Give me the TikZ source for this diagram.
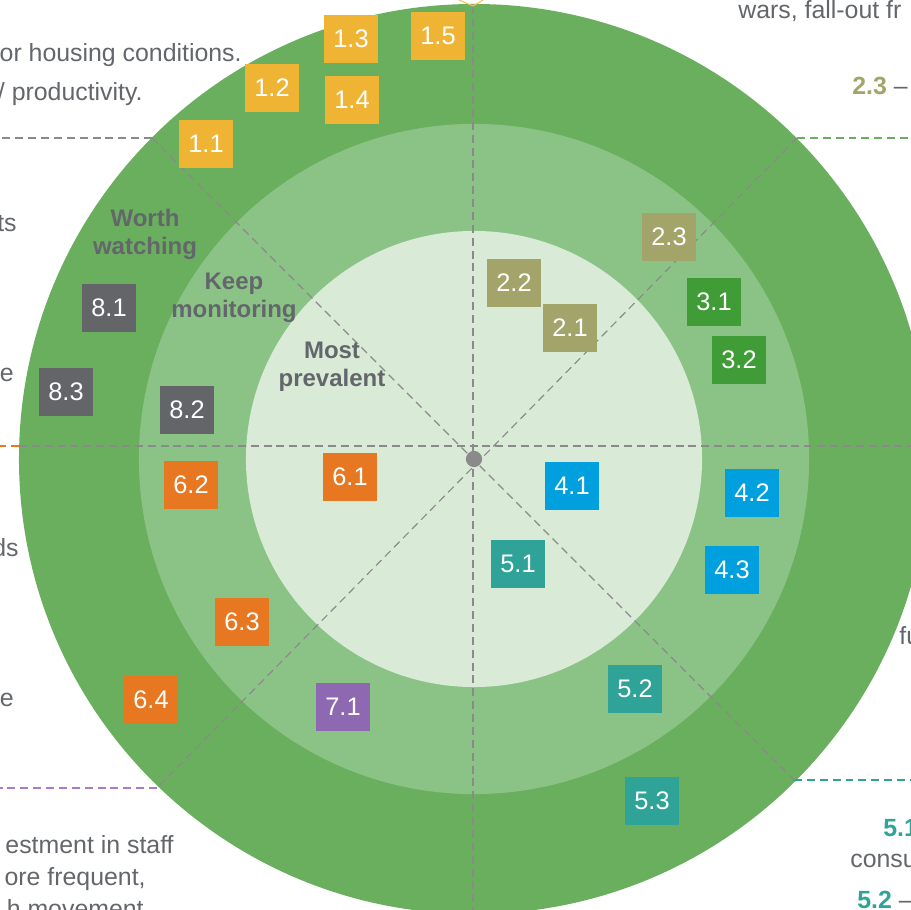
\documentclass[tikz,border=0pt]{standalone}
\usepackage{fontspec}
\setmainfont{Liberation Sans}
\definecolor{ringout}{HTML}{6AAF5E}
\definecolor{ringmid}{HTML}{8BC387}
\definecolor{ringin}{HTML}{D9EBD7}
\definecolor{txtgray}{HTML}{63666A}
\definecolor{cyellow}{HTML}{F0B434}
\definecolor{colive}{HTML}{A2A46A}
\definecolor{cgreen}{HTML}{409C36}
\definecolor{cblue}{HTML}{00A0DF}
\definecolor{cteal}{HTML}{30A399}
\definecolor{corange}{HTML}{E87722}
\definecolor{cpurple}{HTML}{A77BD0}
\definecolor{cgray}{HTML}{636569}
\definecolor{axisgray}{HTML}{8A8A8A}
\definecolor{guidegreen}{HTML}{6AAF5E}

\tikzset{
  item/.style={fill=#1, minimum width=30.6pt, minimum height=27.5pt,
    inner sep=0pt, text=white, font=\fontsize{14.4}{17}\selectfont},
  ringlabel/.style={text=txtgray, align=center, inner sep=0pt,
    font=\bfseries\fontsize{13.6}{15.8}\selectfont},
  sidetext/.style={text=txtgray, inner sep=0pt,
    font=\fontsize{14.1}{16.5}\selectfont},
  axis/.style={draw=axisgray, line width=0.65pt, dash pattern=on 4.5pt off 2.8pt},
  guide/.style={draw=#1, line width=0.65pt, dash pattern=on 4.5pt off 2.8pt},
}

\begin{document}
\begin{tikzpicture}[x=0.567pt, y=-0.567pt]
\useasboundingbox (0,0) rectangle (911,910);
\clip (0,0) rectangle (911,910);

% concentric rings
\coordinate (O) at (474,459);
\fill[ringout] (O) circle[radius=258pt];
\fill[ringmid] (O) circle[radius=190pt];
\fill[ringin]  (O) circle[radius=129.3pt];

% axis ends
\coordinate (top)  at (473,6);
\coordinate (bot)  at (473,910);
\coordinate (lft)  at (19,446);
\coordinate (rgt)  at (911,446);
\coordinate (tl)   at (152,138);
\coordinate (br)   at (794,780);
\coordinate (tr)   at (797,138);
\coordinate (bl)   at (157,788);

% sector dividers
\draw[axis] (top) -- (bot);
\draw[axis] (lft) -- (rgt);
\draw[axis] (tl) -- (br);
\draw[axis] (tr) -- (bl);

% leader lines out to the side texts
\coordinate (tlEnd) at (0,138);
\coordinate (trEnd) at (911,138);
\coordinate (brEnd) at (911,780);
\coordinate (blEnd) at (0,788);
\coordinate (lEnd)  at (0,446);
\draw[axis] (tl) -- (tlEnd);
\draw[guide=guidegreen] (tr) -- (trEnd);
\draw[guide=cteal] (br) -- (brEnd);
\draw[guide=cpurple] (bl) -- (blEnd);
\draw[guide=corange] (lft) -- (lEnd);
\coordinate (yA) at (459,0);
\coordinate (yB) at (483,0);
\draw[cyellow!80, line width=0.6pt] (yA) -- (top) -- (yB);

% centre point
\fill[axisgray] (O) circle[radius=4.6pt];

% ring captions
\node[ringlabel] (worth) at (145,234) {Worth\\watching};
\node[ringlabel] (keep)  at (234,298) {Keep\\monitoring};
\node[ringlabel] (most)  at (332,367) {Most\\prevalent};

% items
\node[item=cyellow] (i11) at (206,144) {1.1};
\node[item=cyellow] (i12) at (272,88)  {1.2};
\node[item=cyellow] (i13) at (351,39)  {1.3};
\node[item=cyellow] (i14) at (352,100) {1.4};
\node[item=cyellow] (i15) at (438,36)  {1.5};

\node[item=colive] (i21) at (570,328) {2.1};
\node[item=colive] (i22) at (514,283) {2.2};
\node[item=colive] (i23) at (669,237) {2.3};

\node[item=cgreen] (i31) at (714,302) {3.1};
\node[item=cgreen] (i32) at (739,360) {3.2};

\node[item=cblue] (i41) at (572,486) {4.1};
\node[item=cblue] (i42) at (752,493) {4.2};
\node[item=cblue] (i43) at (732,570) {4.3};

\node[item=cteal] (i51) at (518,564) {5.1};
\node[item=cteal] (i52) at (635,689) {5.2};
\node[item=cteal] (i53) at (652,801) {5.3};

\node[item=corange] (i61) at (350,477) {6.1};
\node[item=corange] (i62) at (191,485) {6.2};
\node[item=corange] (i63) at (242,622) {6.3};
\node[item=corange] (i64) at (151,700) {6.4};

\node[item=cpurple!85!black] (i71) at (343,707) {7.1};

\node[item=cgray] (i81) at (109,308) {8.1};
\node[item=cgray] (i82) at (187,410) {8.2};
\node[item=cgray] (i83) at (66,392)  {8.3};

% side notes
\node[sidetext, anchor=base east] (l1) at (242,62)  {or housing conditions.};
\node[sidetext, anchor=base east] (l2) at (143,101) {/ productivity.};
\node[sidetext, anchor=base east] (l3) at (17,232)  {ts};
\node[sidetext, anchor=base east] (l4) at (14,382)  {e};
\node[sidetext, anchor=base east] (l5) at (19,557)  {ds};
\node[sidetext, anchor=base east] (l6) at (14,707)  {e};
\node[sidetext, anchor=base east] (l7) at (174,853) {estment in staff};
\node[sidetext, anchor=base east] (l8) at (146,885) {ore frequent,};
\node[sidetext, anchor=base east] (l9) at (144,917) {h movement};

\node[sidetext, anchor=base west] (r1) at (738,19)  {wars, fall-out fr};
\node[sidetext, anchor=base west] (r2) at (852,95)  {\textcolor{colive}{\bfseries 2.3} –};
\node[sidetext, anchor=base west] (r3) at (899,645) {fu};
\node[sidetext, anchor=base west] (r4) at (883,836) {\textcolor{cteal}{\bfseries 5.1}};
\node[sidetext, anchor=base west] (r5) at (850,867) {consu};
\node[sidetext, anchor=base west] (r6) at (857,908) {\textcolor{cteal}{\bfseries 5.2} –};
\end{tikzpicture}
\end{document}
